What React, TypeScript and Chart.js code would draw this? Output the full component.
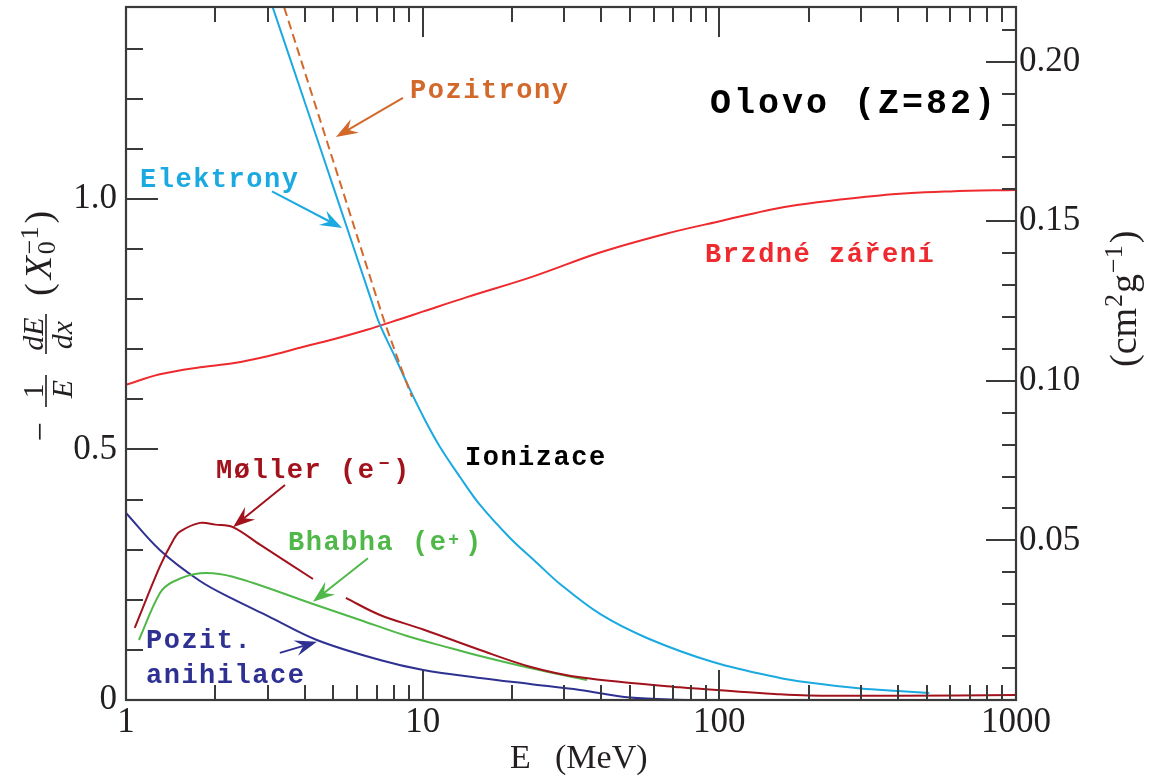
import { useEffect, useRef } from "react";
import { Chart, registerables } from "chart.js";

Chart.register(...registerables);

// Lead (Z = 82): fractional energy loss per radiation length, -1/E dE/dx, vs. energy E (MeV)
const X0_LEAD = 6.37; // g cm^-2, links the X0^-1 scale to the cm^2 g^-1 scale
const Y_MAX = 1.383;

const E_ELECTRON = [3.0, 3.12, 3.98, 5.17, 6.71, 7.18, 8.07, 9.07, 10.18, 11.44, 13.36, 15.61, 19.7, 24.29, 29.04, 39.6, 57.0, 95.2, 160, 200, 300, 400, 510];
const LOSS_ELECTRON = [1.413, 1.383, 1.198, 0.998, 0.798, 0.7485, 0.6846, 0.6188, 0.5589, 0.505, 0.4451, 0.3892, 0.3234, 0.2735, 0.2315, 0.1717, 0.1238, 0.0758, 0.0439, 0.0349, 0.023, 0.018, 0.014];

const E_POSITRON = [3.3, 3.41, 4.29, 5.5, 7.04, 7.46, 8.58, 9.2];
const LOSS_POSITRON = [1.409, 1.383, 1.198, 0.998, 0.798, 0.7525, 0.6527, 0.6048];

const E_BREMS = [1, 1.3, 1.776, 2.29, 3.0, 3.86, 5.0, 6.49, 8.38, 10, 14.1, 23.5, 39.6, 66.6, 98, 170, 348, 600, 1000];
const LOSS_BREMS = [0.629, 0.65, 0.664, 0.672, 0.686, 0.703, 0.72, 0.739, 0.76, 0.775, 0.804, 0.845, 0.893, 0.931, 0.954, 0.985, 1.007, 1.015, 1.018];

// null marks the break in the curve where the Bhabha pointer crosses it
const E_MOLLER = [1.07, 1.3, 1.443, 1.52, 1.776, 2.0, 2.29, 2.83, 4.27, 4.85, 5.51, 7.18, 10.05, 15.61, 23.0, 33.9, 73.6, 160, 200, 400, 1000];
const LOSS_MOLLER = [0.1437, 0.266, 0.319, 0.336, 0.3535, 0.35, 0.345, 0.31, 0.2415, null, 0.2036, 0.1697, 0.1407, 0.0998, 0.0665, 0.0453, 0.0253, 0.0114, 0.009, 0.0085, 0.01];

const E_BHABHA = [1.106, 1.3, 1.44, 1.776, 2.29, 4.27, 6.15, 8.86, 12.37, 15.61, 23.0, 35.8];
const LOSS_BHABHA = [0.1198, 0.213, 0.236, 0.253, 0.246, 0.1916, 0.1597, 0.1277, 0.1038, 0.0878, 0.0639, 0.0399];

const E_ANNIH = [1.0, 1.3, 1.776, 2.29, 3.0, 4.4, 7.18, 10.05, 15.61, 23.0, 33.9, 50.0, 80];
const LOSS_ANNIH = [0.3733, 0.2994, 0.2375, 0.2016, 0.168, 0.1198, 0.0798, 0.0599, 0.0439, 0.0319, 0.02, 0.005, 0.0];

// Tick marks
const X_TICKS = [1, 10, 100].flatMap((d) => [2, 3, 4, 5, 6, 7, 8, 9, 10].map((m) => m * d));
const Y_TICKS = [1, 2, 3, 4, 5, 6, 7, 8, 9, 10, 11, 12, 13].map((i) => i / 10);
const Y2_TICKS = Array.from({ length: 21 }, (_, i) => (i + 1) / 100);

const BLUE = "#1BA9E1";
const ORANGE = "#D2692A";
const RED = "#EE2A2E";
const DARK_RED = "#A2121C";
const GREEN = "#4FB848";
const NAVY = "#2E3192";
const INK = "#231F20";
const FRAME = "#3A3A3A";

const SERIF = '"Liberation Serif", "Times New Roman", serif';
const MONO = '"Liberation Mono", "Courier New", monospace';

type Note = {
  text: string;
  e: number;
  loss: number;
  color: string;
  size?: number;
  spacing?: number;
  sup?: string;
  supCell?: number;
  supRise?: number;
};

const NOTES: Note[] = [
  { text: "Pozitrony", e: 9.07, loss: 1.202, color: ORANGE },
  { text: "Olovo (Z=82)", e: 93.0, loss: 1.172, color: "#000", size: 35, spacing: 3 },
  { text: "Elektrony", e: 1.115, loss: 1.024, color: BLUE },
  { text: "Brzdné záření", e: 89.5, loss: 0.874, color: RED },
  { text: "Ionizace", e: 13.89, loss: 0.469, color: "#000" },
  { text: "Møller (e )", e: 2.011, loss: 0.443, color: DARK_RED, sup: "−", supCell: 9.5, supRise: 9 },
  { text: "Bhabha (e )", e: 3.517, loss: 0.2994, color: GREEN, sup: "+", supCell: 9.35, supRise: 5 },
  { text: "Pozit.", e: 1.168, loss: 0.1038, color: NAVY },
  { text: "anihilace", e: 1.168, loss: 0.0339, color: NAVY },
];

type Pointer = { e1: number; l1: number; e2: number; l2: number; color: string };

const POINTERS: Pointer[] = [
  { e1: 8.58, l1: 1.2016, e2: 5.1, l2: 1.1238, color: ORANGE },
  { e1: 3.105, l1: 1.015, e2: 5.35, l2: 0.942, color: BLUE },
  { e1: 3.435, l1: 0.429, e2: 2.295, l2: 0.345, color: DARK_RED },
  { e1: 6.54, l1: 0.283, e2: 4.27, l2: 0.196, color: GREEN },
  { e1: 3.3, l1: 0.094, e2: 4.4, l2: 0.116, color: NAVY },
];

function points(xs: number[], ys: (number | null)[]) {
  return xs.map((x, i) => ({ x, y: ys[i] }));
}

function isDecade(v: number) {
  const l = Math.log10(v);
  return Math.abs(l - Math.round(l)) < 1e-9;
}

function drawArrow(ctx: CanvasRenderingContext2D, x1: number, y1: number, x2: number, y2: number, color: string) {
  const ang = Math.atan2(y2 - y1, x2 - x1);
  const len = 22;
  const half = 8;
  const notch = 14;
  ctx.save();
  ctx.strokeStyle = color;
  ctx.fillStyle = color;
  ctx.lineWidth = 2;
  ctx.beginPath();
  ctx.moveTo(x1, y1);
  ctx.lineTo(x2 - Math.cos(ang) * notch, y2 - Math.sin(ang) * notch);
  ctx.stroke();
  ctx.translate(x2, y2);
  ctx.rotate(ang);
  ctx.beginPath();
  ctx.moveTo(0, 0);
  ctx.lineTo(-len, -half);
  ctx.lineTo(-notch, 0);
  ctx.lineTo(-len, half);
  ctx.closePath();
  ctx.fill();
  ctx.restore();
}

// Text turned to read bottom-to-top; (x, y) is the baseline point on screen
function rotText(ctx: CanvasRenderingContext2D, text: string, x: number, y: number, font: string, align: CanvasTextAlign) {
  ctx.save();
  ctx.translate(x, y);
  ctx.rotate(-Math.PI / 2);
  ctx.font = font;
  ctx.textAlign = align;
  ctx.textBaseline = "alphabetic";
  ctx.fillText(text, 0, 0);
  ctx.restore();
}

function textWidth(ctx: CanvasRenderingContext2D, text: string, font: string) {
  ctx.font = font;
  return ctx.measureText(text).width;
}

const decorPlugin = {
  id: "decor",
  afterDatasetsDraw(chart: any) {
    const { ctx, chartArea: a, scales } = chart;
    const sx = scales.x;
    const sy = scales.y;
    const sr = scales.y2;

    // frame and inward tick marks
    ctx.save();
    ctx.strokeStyle = FRAME;
    ctx.lineWidth = 2;
    ctx.lineCap = "butt";
    ctx.beginPath();
    for (const v of X_TICKS) {
      const p = Math.round(sx.getPixelForValue(v));
      const len = isDecade(v) ? 30 : 15;
      ctx.moveTo(p, a.bottom);
      ctx.lineTo(p, a.bottom - len);
      ctx.moveTo(p, a.top);
      ctx.lineTo(p, a.top + len);
    }
    for (const v of Y_TICKS) {
      const p = Math.round(sy.getPixelForValue(v));
      const major = Math.round(v * 10) % 5 === 0;
      ctx.moveTo(a.left, p);
      ctx.lineTo(a.left + (major ? 32 : 17), p);
    }
    for (const v of Y2_TICKS) {
      const p = Math.round(sr.getPixelForValue(v));
      const major = Math.round(v * 100) % 5 === 0;
      ctx.moveTo(a.right, p);
      ctx.lineTo(a.right - (major ? 30 : 14), p);
    }
    ctx.stroke();
    ctx.lineWidth = 2.2;
    ctx.strokeRect(a.left, a.top, a.right - a.left, a.bottom - a.top);
    ctx.restore();

    // pointers
    for (const p of POINTERS) {
      drawArrow(
        ctx,
        sx.getPixelForValue(p.e1),
        sy.getPixelForValue(p.l1),
        sx.getPixelForValue(p.e2),
        sy.getPixelForValue(p.l2),
        p.color
      );
    }

    // curve labels
    ctx.save();
    ctx.textBaseline = "alphabetic";
    ctx.textAlign = "left";
    for (const n of NOTES) {
      const size = n.size ?? 27;
      const spacing = n.spacing ?? 1.5;
      const x = sx.getPixelForValue(n.e);
      const y = sy.getPixelForValue(n.loss);
      ctx.fillStyle = n.color;
      ctx.font = `bold ${size}px ${MONO}`;
      (ctx as any).letterSpacing = `${spacing}px`;
      ctx.fillText(n.text, x, y);
      if (n.sup) {
        const adv = size * 0.6 + spacing;
        (ctx as any).letterSpacing = "0px";
        ctx.font = `bold 18px ${MONO}`;
        ctx.textAlign = "center";
        ctx.fillText(n.sup, x + (n.supCell ?? 9) * adv, y - (n.supRise ?? 6));
        ctx.textAlign = "left";
      }
    }
    (ctx as any).letterSpacing = "0px";
    ctx.restore();

    // axis titles
    ctx.save();
    ctx.fillStyle = INK;
    const L = a.left;
    const B = a.bottom;
    const R = a.right;

    // left: -(1/E)(dE/dx) (X0^-1)
    const fracUp = `30px ${SERIF}`;
    const fracIt = `italic 30px ${SERIF}`;
    rotText(ctx, "−", L - 75, B - 268, `34px ${SERIF}`, "center");
    rotText(ctx, "1", L - 83, B - 309, fracUp, "center");
    ctx.fillRect(L - 80.8, B - 325, 1.6, 32);
    rotText(ctx, "E", L - 54, B - 311, fracIt, "center");
    rotText(ctx, "dE", L - 83, B - 366, fracIt, "center");
    ctx.fillRect(L - 80.8, B - 386, 1.6, 40);
    rotText(ctx, "dx", L - 54, B - 365, fracIt, "center");

    const mainL = `38px ${SERIF}`;
    const scriptL = `26px ${SERIF}`;
    const baseL = L - 75;
    let y = B - 404;
    rotText(ctx, "(", baseL, y, mainL, "left");
    y -= textWidth(ctx, "(", mainL) + 4;
    rotText(ctx, "X", baseL, y, `italic 38px ${SERIF}`, "left");
    y -= textWidth(ctx, "X", `italic 38px ${SERIF}`) + 2;
    rotText(ctx, "−1", baseL - 13, y, scriptL, "left");
    rotText(ctx, "0", baseL + 4, y, scriptL, "left");
    y -= Math.max(textWidth(ctx, "−1", scriptL), textWidth(ctx, "0", scriptL)) + 3;
    rotText(ctx, ")", baseL, y, mainL, "left");

    // right: (cm^2 g^-1)
    const baseR = R + 120;
    let yr = B - 333;
    const mainR = `38px ${SERIF}`;
    const scriptR = `26px ${SERIF}`;
    rotText(ctx, "(cm", baseR, yr, mainR, "left");
    yr -= textWidth(ctx, "(cm", mainR) + 1;
    rotText(ctx, "2", baseR - 14, yr, scriptR, "left");
    yr -= textWidth(ctx, "2", scriptR) + 1;
    rotText(ctx, "g", baseR, yr, mainR, "left");
    yr -= textWidth(ctx, "g", mainR) + 1;
    rotText(ctx, "−1", baseR - 14, yr, scriptR, "left");
    yr -= textWidth(ctx, "−1", scriptR) + 2;
    rotText(ctx, ")", baseR, yr, mainR, "left");

    // bottom: E (MeV)
    const cx = (a.left + a.right) / 2;
    ctx.font = `34px ${SERIF}`;
    ctx.textAlign = "left";
    ctx.textBaseline = "alphabetic";
    ctx.fillText("E", cx - 61, B + 68);
    ctx.fillText("(MeV)", cx - 16, B + 68);
    ctx.restore();
  },
};

export default function App() {
  const canvasRef = useRef<HTMLCanvasElement | null>(null);

  useEffect(() => {
    const canvas = canvasRef.current;
    if (!canvas) return;

    const line = (data: any[], color: string, dash: number[] = []) => ({
      data,
      borderColor: color,
      backgroundColor: color,
      borderWidth: 2,
      borderDash: dash,
      pointRadius: 0,
      fill: false,
      tension: 0.35,
      spanGaps: false,
    });

    const tickFont = { family: SERIF, size: 35 };

    const chart = new Chart(canvas, {
      type: "line",
      data: {
        datasets: [
          line(points(E_POSITRON, LOSS_POSITRON), ORANGE, [9, 5]),
          line(points(E_ELECTRON, LOSS_ELECTRON), BLUE),
          line(points(E_BREMS, LOSS_BREMS), RED),
          line(points(E_MOLLER, LOSS_MOLLER), DARK_RED),
          line(points(E_BHABHA, LOSS_BHABHA), GREEN),
          line(points(E_ANNIH, LOSS_ANNIH), NAVY),
        ],
      },
      options: {
        animation: false,
        responsive: false,
        events: [],
        layout: { padding: { top: 7, left: 0, right: 0, bottom: 0 } },
        plugins: {
          legend: { display: false },
          tooltip: { enabled: false },
          title: { display: false },
        },
        scales: {
          x: {
            type: "logarithmic",
            position: "bottom",
            min: 1,
            max: 1000,
            grid: { display: false, drawTicks: false },
            border: { display: false },
            ticks: {
              autoSkip: false,
              maxRotation: 0,
              minRotation: 0,
              padding: 2,
              color: INK,
              font: tickFont,
              callback: (v: any) => (isDecade(Number(v)) ? String(Number(v)) : ""),
            },
            afterFit: (s: any) => {
              s.height = 78;
              s.paddingLeft = 0;
              s.paddingRight = 0;
            },
          },
          y: {
            type: "linear",
            position: "left",
            min: 0,
            max: Y_MAX,
            grid: { display: false, drawTicks: false },
            border: { display: false },
            ticks: {
              stepSize: 0.1,
              includeBounds: false,
              autoSkip: false,
              padding: 9,
              color: INK,
              font: tickFont,
              callback: (v: any) => {
                const r = Math.round(Number(v) * 10);
                if (Math.abs(Number(v) * 10 - r) > 1e-6 || r % 5 !== 0) return "";
                return r === 0 ? "0" : (r / 10).toFixed(1);
              },
            },
            afterFit: (s: any) => {
              s.width = 126;
              s.paddingTop = 0;
              s.paddingBottom = 0;
            },
          },
          y2: {
            type: "linear",
            position: "right",
            min: 0,
            max: Y_MAX / X0_LEAD,
            grid: { display: false, drawTicks: false },
            border: { display: false },
            ticks: {
              stepSize: 0.01,
              includeBounds: false,
              autoSkip: false,
              padding: 3,
              color: INK,
              font: tickFont,
              callback: (v: any) => {
                const r = Math.round(Number(v) * 100);
                if (Math.abs(Number(v) * 100 - r) > 1e-6 || r % 5 !== 0 || r === 0) return "";
                return (r / 100).toFixed(2);
              },
            },
            afterFit: (s: any) => {
              s.width = 134;
              s.paddingTop = 0;
              s.paddingBottom = 0;
            },
          },
        },
      },
      plugins: [decorPlugin],
    } as any);

    return () => chart.destroy();
  }, []);

  return (
    <div style={{ position: "fixed", left: 0, top: 0, width: 1150, height: 778, background: "#fff" }}>
      <canvas ref={canvasRef} width={1150} height={778} style={{ display: "block" }} />
    </div>
  );
}
